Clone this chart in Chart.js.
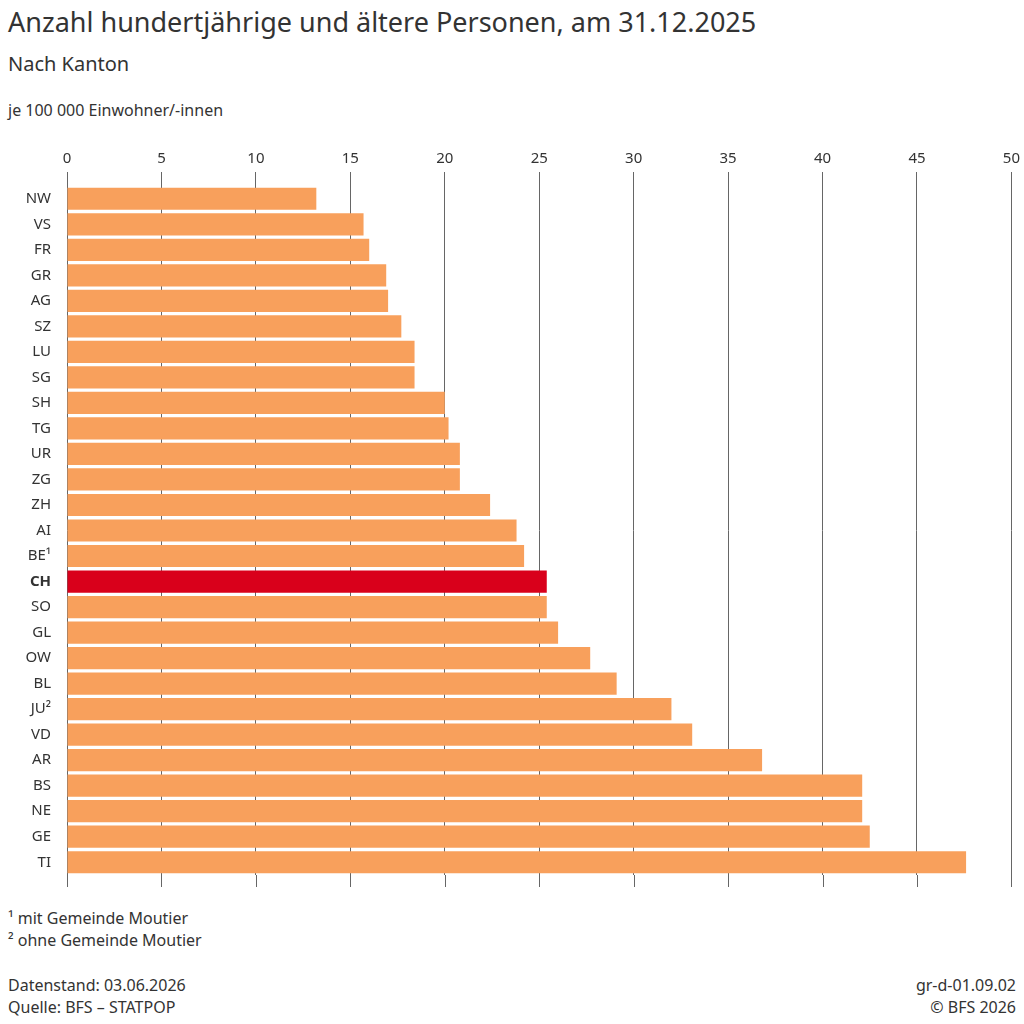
<!DOCTYPE html>
<html><head><meta charset="utf-8">
<script src="https://cdn.jsdelivr.net/npm/chart.js@4"></script>
<style>
body{margin:0;width:1024px;height:1024px;font-family:"Noto Sans",sans-serif;color:#333;position:relative;background:#fff}
.t{position:absolute;white-space:nowrap}
#wrap{position:absolute;left:0;top:146px;width:1024px;height:760px}
</style></head><body>
<div class="t" style="left:8px;top:3px;font-size:27px;color:#333">Anzahl hundertjährige und ältere Personen, am 31.12.2025</div>
<div class="t" style="left:8px;top:50px;font-size:20px">Nach Kanton</div>
<div class="t" style="left:8px;top:99px;font-size:16px">je 100 000 Einwohner/-innen</div>
<div class="t" style="left:8px;top:907px;font-size:16px;line-height:22px">¹ mit Gemeinde Moutier<br>² ohne Gemeinde Moutier</div>
<div class="t" style="left:8px;top:974px;font-size:16px;line-height:22px">Datenstand: 03.06.2026<br>Quelle: BFS – STATPOP</div>
<div class="t" style="right:8px;top:974px;font-size:16px;line-height:22px;text-align:right">gr-d-01.09.02<br>© BFS 2026</div>
<div id="wrap"><canvas id="c"></canvas></div>
<script>
const cantons = ["NW","VS","FR","GR","AG","SZ","LU","SG","SH","TG","UR","ZG","ZH","AI","BE¹","CH","SO","GL","OW","BL","JU²","VD","AR","BS","NE","GE","TI"];
const values = [13.2,15.7,16.0,16.9,17.0,17.7,18.4,18.4,20.0,20.2,20.8,20.8,22.4,23.8,24.2,25.4,25.4,26.0,27.7,29.1,32.0,33.1,36.8,42.1,42.1,42.5,47.6];
const xTicks = [0,5,10,15,20,25,30,35,40,45,50];

const barColors = cantons.map(c => c === 'CH' ? '#D9001B' : '#F8A05C');

const extendGrid = {
  id: 'extendGrid',
  beforeDatasetsDraw(chart) {
    const {ctx, chartArea, scales} = chart;
    ctx.save();
    ctx.strokeStyle = '#666';
    ctx.lineWidth = 1;
    xTicks.forEach(v => {
      const x = Math.round(scales.x.getPixelForValue(v)) + 0.5;
      ctx.beginPath();
      ctx.moveTo(x, chartArea.bottom);
      ctx.lineTo(x, chartArea.bottom + 12);
      ctx.stroke();
    });
    ctx.restore();
  }
};

new Chart(document.getElementById('c'), {
  type: 'bar',
  data: {
    labels: cantons,
    datasets: [{ data: values, backgroundColor: barColors, barPercentage: 0.87, categoryPercentage: 1 }]
  },
  options: {
    indexAxis: 'y',
    responsive: true,
    maintainAspectRatio: false,
    animation: false,
    layout: { padding: { left: 0, right: 7, top: 0, bottom: 31 } },
    plugins: { legend: { display: false }, tooltip: { enabled: false } },
    scales: {
      x: {
        position: 'top', min: 0, max: 50,
        afterBuildTicks: s => { s.ticks = xTicks.map(v => ({ value: v })); },
        grid: { color: '#666', tickLength: 14 },
        border: { display: false },
        ticks: { color: '#333', font: { family: 'Noto Sans', size: 15 }, padding: 4 }
      },
      y: {
        grid: { display: false },
        border: { display: false },
        afterFit: s => { s.width = 67; },
        ticks: {
          color: '#333', padding: 8,
          font: ctx => ({ family: 'Noto Sans', size: 15, weight: cantons[ctx.index] === 'CH' ? 'bold' : 'normal' })
        }
      }
    }
  },
  plugins: [extendGrid]
});
</script>
</body></html>
